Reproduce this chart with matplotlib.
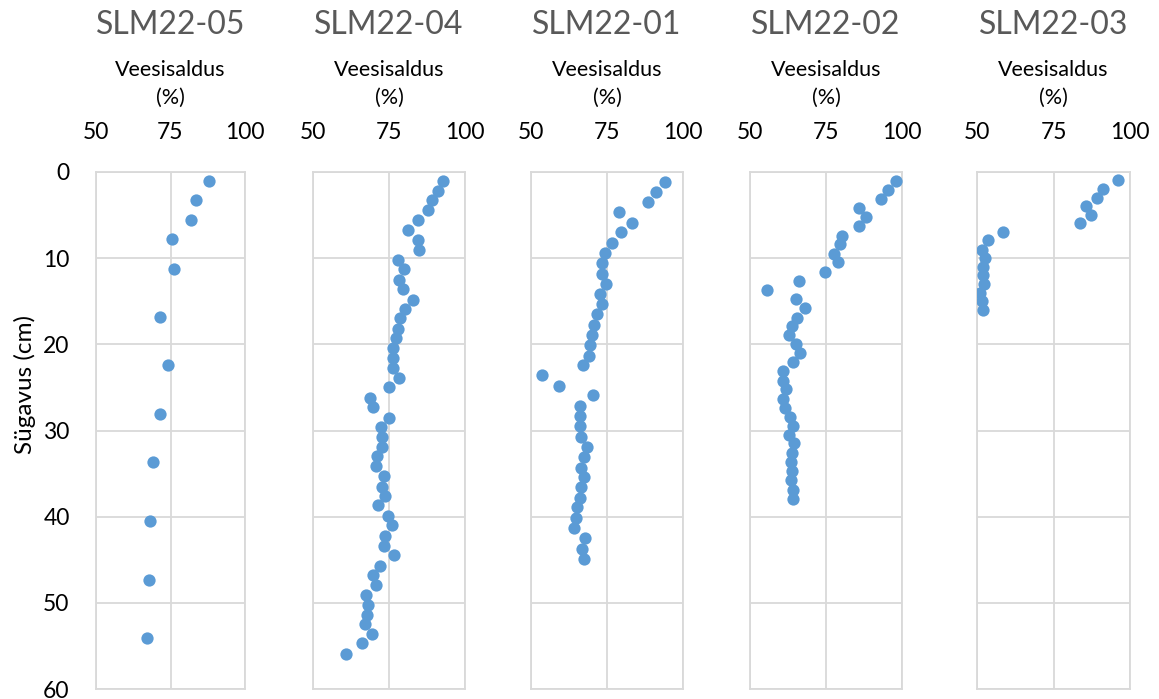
import matplotlib
matplotlib.use("Agg")
import matplotlib.pyplot as plt

plt.rcParams['font.family'] = ['Lato', 'DejaVu Sans']

# Core names, left to right
cores = ["SLM22-05", "SLM22-04", "SLM22-01", "SLM22-02", "SLM22-03"]

# Water content (%) and depth (cm) per core
water_05 = [88.0, 83.6, 81.9, 75.5, 76.2, 71.5, 74.2, 71.4, 69.2, 68.2, 67.7, 67.2]
depth_05 = [1.0, 3.3, 5.6, 7.8, 11.2, 16.8, 22.4, 28.1, 33.7, 40.5, 47.3, 54.1]

water_04 = [92.7, 91.0, 89.2, 87.7, 84.5, 81.1, 84.5, 84.9, 77.8, 79.9,
            78.3, 79.5, 82.9, 80.1, 78.7, 77.8, 77.2, 76.3, 76.3, 76.3,
            78.3, 75.1, 68.7, 69.7, 74.9, 72.4, 72.6, 72.6, 71.1, 70.6,
            73.4, 72.8, 73.8, 71.5, 74.7, 76.1, 73.6, 73.3, 76.7, 72.1,
            69.8, 70.8, 67.4, 68.0, 67.6, 67.2, 69.4, 66.0, 60.7]
depth_04 = [1.0, 2.2, 3.3, 4.4, 5.6, 6.7, 7.9, 9.0, 10.2, 11.3,
            12.5, 13.6, 14.8, 15.9, 17.0, 18.2, 19.3, 20.4, 21.6, 22.7,
            23.9, 25.0, 26.2, 27.3, 28.5, 29.6, 30.8, 31.9, 33.0, 34.1,
            35.3, 36.5, 37.6, 38.7, 39.9, 41.0, 42.2, 43.4, 44.5, 45.7,
            46.8, 47.9, 49.1, 50.2, 51.4, 52.5, 53.6, 54.7, 55.9]

water_01 = [94.1, 91.1, 88.5, 78.9, 83.1, 79.5, 76.8, 74.5, 73.4, 73.4,
            74.6, 72.6, 73.2, 71.8, 70.6, 70.2, 69.3, 69.1, 67.0, 53.6,
            59.3, 70.5, 66.1, 66.1, 66.1, 66.3, 68.4, 67.5, 66.6, 67.4,
            66.6, 66.1, 65.1, 64.7, 64.3, 67.7, 66.8, 67.4]
depth_01 = [1.15, 2.35, 3.5, 4.7, 5.9, 7.0, 8.2, 9.4, 10.6, 11.8,
            13.0, 14.2, 15.3, 16.5, 17.7, 18.9, 20.1, 21.3, 22.4, 23.6,
            24.8, 25.9, 27.2, 28.3, 29.5, 30.7, 31.9, 33.1, 34.3, 35.4,
            36.6, 37.8, 38.9, 40.2, 41.3, 42.5, 43.7, 44.9]

water_02 = [97.9, 95.3, 93.2, 85.8, 88.3, 85.7, 80.4, 79.5, 77.5, 78.8,
            74.8, 66.2, 55.7, 65.0, 68.1, 65.4, 63.7, 62.9, 65.2, 66.3,
            64.0, 60.8, 60.9, 62.0, 60.7, 61.5, 63.2, 64.1, 62.7, 64.4,
            63.8, 63.6, 63.9, 63.6, 64.0, 64.2]
depth_02 = [1.0, 2.1, 3.1, 4.2, 5.2, 6.3, 7.4, 8.4, 9.5, 10.5,
            11.6, 12.7, 13.7, 14.7, 15.8, 16.9, 17.9, 18.9, 20.0, 21.0,
            22.0, 23.1, 24.2, 25.2, 26.3, 27.4, 28.4, 29.5, 30.5, 31.5,
            32.6, 33.7, 34.7, 35.8, 36.9, 37.9]

water_03 = [96.0, 91.1, 89.2, 85.5, 87.2, 83.8, 58.4, 53.5, 51.6, 52.5,
            51.8, 51.8, 52.3, 51.1, 51.6, 52.1]
depth_03 = [0.9, 2.0, 3.0, 3.9, 5.0, 5.95, 7.0, 7.9, 9.0, 10.0,
            11.0, 12.0, 13.0, 14.0, 15.0, 16.0]

water = [water_05, water_04, water_01, water_02, water_03]
depth = [depth_05, depth_04, depth_01, depth_02, depth_03]

x_ticks = [50, 75, 100]
y_ticks = [0, 10, 20, 30, 40, 50, 60]
x_label = "Veesisaldus"
x_unit = "(%)"
y_label = "Sügavus (cm)"

W, H = 1159, 699
fig = plt.figure(figsize=(W / 100, H / 100), dpi=100)

lefts = [96, 313, 531, 750, 977]
widths = [149, 152, 152, 152, 153]
top_px, bottom_px = 172, 689

grid_col = "#d9d9d9"
dot_col = "#5b9bd5"

for i, name in enumerate(cores):
    ax = fig.add_axes([lefts[i] / W, (H - bottom_px) / H,
                       widths[i] / W, (bottom_px - top_px) / H])
    ax.scatter(water[i], depth[i], s=78, color=dot_col, linewidths=0, zorder=3)
    ax.set_xlim(50, 100)
    ax.set_ylim(60, 0)
    ax.set_xticks(x_ticks)
    ax.set_yticks(y_ticks)
    ax.grid(True, color=grid_col, linewidth=1.3)
    ax.set_axisbelow(True)
    for sp in ax.spines.values():
        sp.set_color(grid_col)
        sp.set_linewidth(1.3)
    ax.tick_params(axis='x', top=False, bottom=False, labeltop=True,
                   labelbottom=False, length=0, pad=21, labelsize=16.5,
                   labelcolor="#000000")
    ax.tick_params(axis='y', left=False, right=False, length=0, pad=19,
                   labelsize=16.5, labelcolor="#000000")
    if i != 0:
        ax.tick_params(axis='y', labelleft=False)

    h = bottom_px - top_px
    ax.text(0.5, 1 + (top_px - 25.5) / h, name, transform=ax.transAxes,
            ha='center', va='center', fontsize=23, color="#595959")
    ax.text(0.5, 1 + (top_px - 70.5) / h, x_label, transform=ax.transAxes,
            ha='center', va='center', fontsize=15.5, color="#000000")
    ax.text(0.5, 1 + (top_px - 98) / h, x_unit, transform=ax.transAxes,
            ha='center', va='center', fontsize=15.5, color="#000000")

# Shared depth label on the left
fig.text(25 / W, 1 - 384 / H, y_label, rotation=90, ha='center', va='center',
         fontsize=17.5, color="#000000")

fig.savefig("out.png", dpi=100)
